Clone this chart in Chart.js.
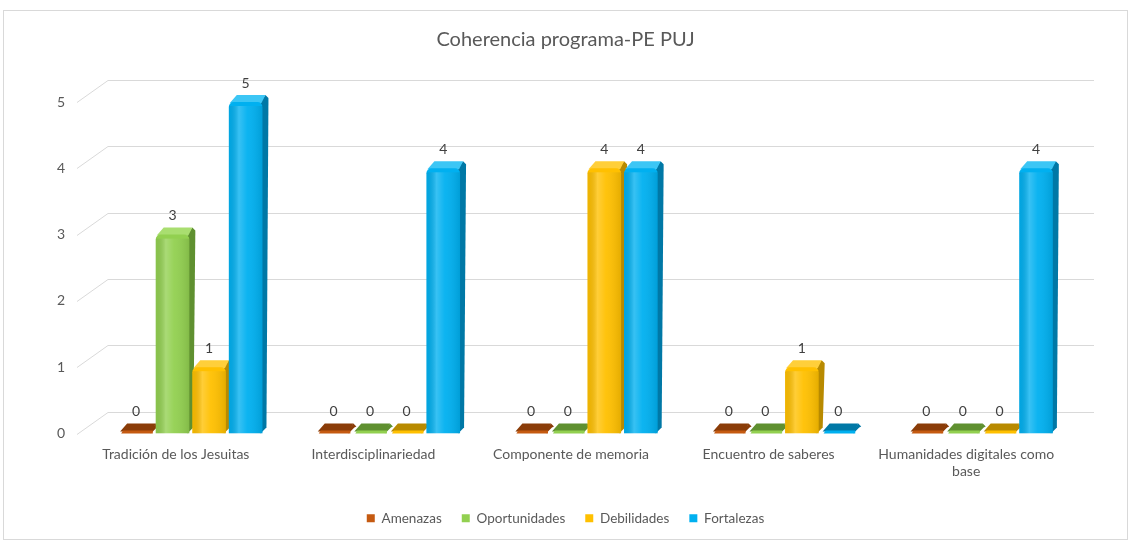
<!DOCTYPE html>
<html>
<head>
<meta charset="utf-8">
<script src="https://cdn.jsdelivr.net/npm/chart.js@4.4.1/dist/chart.umd.min.js"></script>
<style>
  html, body { margin: 0; padding: 0; background: #fff; }
  #box { position: absolute; left: 3px; top: 10px; width: 1125px; height: 530px;
         border: 1px solid #d9d9d9; box-sizing: border-box; }
  canvas { display: block; }
</style>
</head>
<body>
<div id="box"><canvas id="coherenciaChart"></canvas></div>
<script>
const categories = [
    'Tradición de los Jesuitas',
    'Interdisciplinariedad',
    'Componente de memoria',
    'Encuentro de saberes',
    ['Humanidades digitales como', 'base']
];
const amenazas = [0, 0, 0, 0, 0];
const oportunidades = [3, 0, 0, 0, 0];
const debilidades = [1, 0, 4, 1, 0];
const fortalezas = [5, 4, 4, 0, 4];
const yTicks = [0, 1, 2, 3, 4, 5];

const frontColors = ['#c55a11', '#92d050', '#ffc000', '#00b0f0'];
const sideColors = ['#8a3c08', '#5f9030', '#b88a00', '#0078a6'];
const topColors = ['#d9722c', '#a9de70', '#ffcf3a', '#3cc6f5'];
const DX = 6, DY = 7;

const font = "Lato, 'Open Sans', sans-serif";

// lineas de grilla en perspectiva + caras 3D de las barras
const gridPlugin = {
    id: 'grid3d',
    beforeDatasetsDraw(chart) {
        const ctx = chart.ctx;
        const area = chart.chartArea;
        const yScale = chart.scales.y;
        ctx.save();
        ctx.strokeStyle = '#d9d9d9';
        ctx.lineWidth = 1;
        yTicks.forEach(v => {
            const p = Math.round(yScale.getPixelForValue(v)) + 0.5;
            ctx.beginPath();
            ctx.moveTo(area.left - 15, p);
            ctx.lineTo(area.left + 16, p - 22);
            ctx.lineTo(area.right + 14, p - 22);
            ctx.stroke();
        });
        chart.data.datasets.forEach((ds, di) => {
            const meta = chart.getDatasetMeta(di);
            meta.data.forEach(bar => {
                const { x, y, base, width } = bar.getProps(['x', 'y', 'base', 'width'], true);
                const l = x - width / 2, r = x + width / 2;
                const flat = base - y < 3;
                const top = flat ? base - 3 : y;
                ctx.fillStyle = sideColors[di];
                ctx.beginPath();
                ctx.moveTo(r - 2, base);
                ctx.lineTo(r + DX - 2, base - DY + 1);
                ctx.lineTo(r + DX, top - DY + 3);
                ctx.lineTo(r + DX - 3, top - DY);
                ctx.lineTo(r - 2, top);
                ctx.closePath();
                ctx.fill();
                ctx.fillStyle = flat ? sideColors[di] : topColors[di];
                ctx.beginPath();
                ctx.moveTo(l + 1, top + 1);
                ctx.lineTo(l + DX + 2, top - DY);
                ctx.lineTo(r + DX - 3, top - DY);
                ctx.lineTo(r - 1, top + 1);
                ctx.closePath();
                ctx.fill();
                if (flat) {
                    ctx.fillStyle = frontColors[di];
                    ctx.beginPath();
                    ctx.moveTo(l + 2, base);
                    ctx.lineTo(r, base);
                    ctx.lineTo(r, base - 3);
                    ctx.lineTo(l + 4, base - 3);
                    ctx.closePath();
                    ctx.fill();
                }
            });
        });
        ctx.restore();
    },
    afterDatasetsDraw(chart) {
        const ctx = chart.ctx;
        ctx.save();
        chart.data.datasets.forEach((ds, di) => {
            const meta = chart.getDatasetMeta(di);
            meta.data.forEach((bar, i) => {
                const { x, y, base, width } = bar.getProps(['x', 'y', 'base', 'width'], true);
                const l = x - width / 2, r = x + width / 2;
                if (base - y > 8) {
                    const g = ctx.createLinearGradient(l, 0, r, 0);
                    g.addColorStop(0, 'rgba(0,0,0,0.06)');
                    g.addColorStop(0.3, 'rgba(255,255,255,0.22)');
                    g.addColorStop(0.55, 'rgba(255,255,255,0.05)');
                    g.addColorStop(1, 'rgba(0,0,0,0.10)');
                    ctx.fillStyle = g;
                    ctx.fillRect(l, y + 4, width, base - y - 4);
                }
                // etiqueta de valor
                ctx.fillStyle = '#404040';
                ctx.font = "14px " + font;
                ctx.textAlign = 'center';
                ctx.textBaseline = 'middle';
                ctx.fillText(ds.data[i], x, Math.min(y, base - 3) - 19);
            });
        });
        ctx.restore();
    }
};

const ctx = document.getElementById('coherenciaChart').getContext('2d');

new Chart(ctx, {
    type: 'bar',
    data: {
        labels: categories,
        datasets: [
            { label: 'Amenazas', data: amenazas, backgroundColor: frontColors[0] },
            { label: 'Oportunidades', data: oportunidades, backgroundColor: frontColors[1] },
            { label: 'Debilidades', data: debilidades, backgroundColor: frontColors[2] },
            { label: 'Fortalezas', data: fortalezas, backgroundColor: frontColors[3] }
        ]
    },
    options: {
        responsive: true,
        maintainAspectRatio: false,
        animation: false,
        categoryPercentage: 0.74,
        barPercentage: 0.92,
        borderRadius: { topLeft: 5, topRight: 5 },
        borderSkipped: 'bottom',
        layout: { padding: { left: 0, right: 0, top: 0, bottom: 4 } },
        plugins: {
            title: {
                display: true,
                text: 'Coherencia programa-PE PUJ',
                color: '#595959',
                font: { family: font, size: 20, weight: 'normal' },
                padding: { top: 17, bottom: 50 }
            },
            legend: {
                position: 'bottom',
                labels: {
                    color: '#595959',
                    font: { family: font, size: 13.5 },
                    boxWidth: 8,
                    boxHeight: 8,
                    padding: 20
                }
            },
            tooltip: { enabled: false }
        },
        scales: {
            x: {
                grid: { display: false, drawTicks: false },
                border: { display: false },
                ticks: {
                    color: '#595959',
                    font: { family: font, size: 14 },
                    padding: 13,
                    labelOffset: -15,
                    maxRotation: 0,
                    autoSkip: false
                },
                afterFit(scale) { scale.height = 58; }
            },
            y: {
                min: 0,
                max: 5,
                grid: { display: false, drawTicks: false },
                border: { display: false },
                ticks: {
                    stepSize: 1,
                    color: '#595959',
                    font: { family: font, size: 14 },
                    padding: 27
                },
                afterFit(scale) { scale.width = 88; }
            },
            yRight: {
                position: 'right',
                min: 0,
                max: 5,
                grid: { display: false, drawTicks: false },
                border: { display: false },
                ticks: { display: false },
                afterFit(scale) { scale.width = 47; }
            }
        }
    },
    plugins: [gridPlugin]
});
</script>
</body>
</html>
